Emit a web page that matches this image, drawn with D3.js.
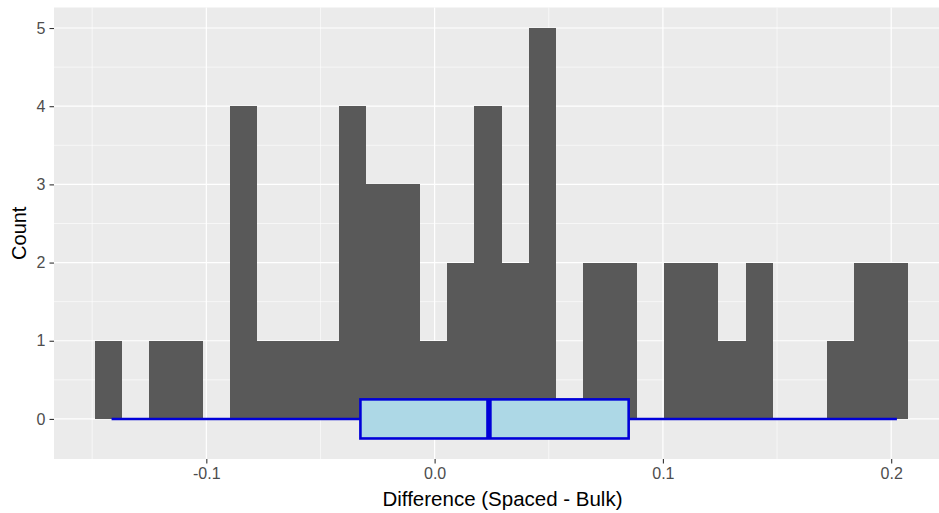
<!DOCTYPE html>
<html lang="en">
<head>
    <meta charset="UTF-8">
    <title>Difference histogram</title>
    <script src="https://d3js.org/d3.v7.min.js"></script>
    <style>
        body {
            margin: 0;
            background-color: #ffffff;
            font-family: "Liberation Sans", Arial, sans-serif;
        }
        svg {
            display: block;
        }
    </style>
</head>
<body>
    <div id="chart"></div>

    <script>
        // histogram: 30 bins
        const binStart = -0.1489;
        const binWidth = 0.01188;
        const binCounts = [1, 0, 1, 1, 0, 4, 1, 1, 1, 4, 3, 3, 1, 2, 4, 2, 5, 0, 2, 2, 0, 2, 2, 1, 2, 0, 0, 1, 2, 2];

        // boxplot: lower whisker, Q1, median, Q3, upper whisker
        const boxStats = [-0.1415, -0.0325, 0.0238, 0.0850, 0.2025];
        const boxHalfHeight = 0.25;

        const xTicks = [-0.1, 0.0, 0.1, 0.2];
        const xMinor = [-0.15, -0.05, 0.05, 0.15];
        const yTicks = [0, 1, 2, 3, 4, 5];
        const yMinor = [0.5, 1.5, 2.5, 3.5, 4.5];

        const xTitle = "Difference (Spaced - Bulk)";
        const yTitle = "Count";

        const width = 939;
        const height = 513;
        const panel = { left: 54, top: 7.5, right: 949, bottom: 459 };

        const bins = binCounts.map((c, i) => ({
            x0: binStart + i * binWidth,
            x1: binStart + (i + 1) * binWidth,
            count: c
        }));

        // ggplot style 5% expansion
        const xLo = bins[0].x0, xHi = bins[bins.length - 1].x1;
        const xPad = (xHi - xLo) * 0.05;
        const yLo = -boxHalfHeight, yHi = d3.max(binCounts);
        const yPad = (yHi - yLo) * 0.05;

        const x = d3.scaleLinear()
            .domain([xLo - xPad, xHi + xPad])
            .range([panel.left, panel.right]);
        const y = d3.scaleLinear()
            .domain([yLo - yPad, yHi + yPad])
            .range([panel.bottom, panel.top]);

        const svg = d3.select("#chart").append("svg")
            .attr("width", width)
            .attr("height", height);

        // panel background
        svg.append("rect")
            .attr("x", panel.left)
            .attr("y", panel.top)
            .attr("width", panel.right - panel.left)
            .attr("height", panel.bottom - panel.top)
            .attr("fill", "#ebebeb");

        const grid = svg.append("g");
        grid.selectAll(".xminor").data(xMinor).join("line")
            .attr("x1", d => x(d)).attr("x2", d => x(d))
            .attr("y1", panel.top).attr("y2", panel.bottom)
            .attr("stroke", "#ffffff").attr("stroke-width", 0.6);
        grid.selectAll(".yminor").data(yMinor).join("line")
            .attr("y1", d => y(d)).attr("y2", d => y(d))
            .attr("x1", panel.left).attr("x2", panel.right)
            .attr("stroke", "#ffffff").attr("stroke-width", 0.6);
        grid.selectAll(".xmajor").data(xTicks).join("line")
            .attr("x1", d => x(d)).attr("x2", d => x(d))
            .attr("y1", panel.top).attr("y2", panel.bottom)
            .attr("stroke", "#ffffff").attr("stroke-width", 1.2);
        grid.selectAll(".ymajor").data(yTicks).join("line")
            .attr("y1", d => y(d)).attr("y2", d => y(d))
            .attr("x1", panel.left).attr("x2", panel.right)
            .attr("stroke", "#ffffff").attr("stroke-width", 1.2);

        // histogram bars
        svg.append("g")
            .selectAll("rect")
            .data(bins.filter(b => b.count > 0))
            .join("rect")
            .attr("x", d => x(d.x0))
            .attr("width", d => x(d.x1) - x(d.x0))
            .attr("y", d => y(d.count))
            .attr("height", d => y(0) - y(d.count))
            .attr("fill", "#595959")
            .attr("shape-rendering", "crispEdges");

        // boxplot
        const boxColor = "#0000d8";
        const box = svg.append("g");
        box.append("line")
            .attr("x1", x(boxStats[0])).attr("x2", x(boxStats[1]))
            .attr("y1", y(0)).attr("y2", y(0))
            .attr("stroke", boxColor).attr("stroke-width", 2.6);
        box.append("line")
            .attr("x1", x(boxStats[3])).attr("x2", x(boxStats[4]))
            .attr("y1", y(0)).attr("y2", y(0))
            .attr("stroke", boxColor).attr("stroke-width", 2.6);
        box.append("rect")
            .attr("x", x(boxStats[1]))
            .attr("width", x(boxStats[3]) - x(boxStats[1]))
            .attr("y", y(boxHalfHeight))
            .attr("height", y(-boxHalfHeight) - y(boxHalfHeight))
            .attr("fill", "#add8e6")
            .attr("stroke", boxColor)
            .attr("stroke-width", 2.6);
        box.append("line")
            .attr("x1", x(boxStats[2])).attr("x2", x(boxStats[2]))
            .attr("y1", y(boxHalfHeight)).attr("y2", y(-boxHalfHeight))
            .attr("stroke", boxColor).attr("stroke-width", 5.5);

        // axes
        const xAxis = svg.append("g")
            .attr("transform", `translate(0,${panel.bottom})`)
            .call(d3.axisBottom(x).tickValues(xTicks).tickFormat(d3.format(".1f")).tickSize(4.5).tickPadding(4));
        const yAxis = svg.append("g")
            .attr("transform", `translate(${panel.left},0)`)
            .call(d3.axisLeft(y).tickValues(yTicks).tickFormat(d3.format("d")).tickSize(4.5).tickPadding(4));

        [xAxis, yAxis].forEach(ax => {
            ax.select(".domain").remove();
            ax.selectAll(".tick line").attr("stroke", "#333333").attr("stroke-width", 1.1);
            ax.selectAll(".tick text")
                .attr("fill", "#4d4d4d")
                .style("font-size", "16px")
                .style("font-family", "'Liberation Sans', Arial, sans-serif");
        });
        // minus sign as plain hyphen like R
        xAxis.selectAll(".tick text").text(d => d3.format(".1f")(d).replace("−", "-"));

        svg.append("text")
            .attr("x", (panel.left + panel.right) / 2 + 1)
            .attr("y", 506)
            .attr("text-anchor", "middle")
            .style("font-size", "20.5px")
            .attr("fill", "#000000")
            .text(xTitle);

        svg.append("text")
            .attr("transform", `translate(26,${(panel.top + panel.bottom) / 2}) rotate(-90)`)
            .attr("text-anchor", "middle")
            .style("font-size", "20px")
            .attr("fill", "#000000")
            .text(yTitle);
    </script>
</body>
</html>
